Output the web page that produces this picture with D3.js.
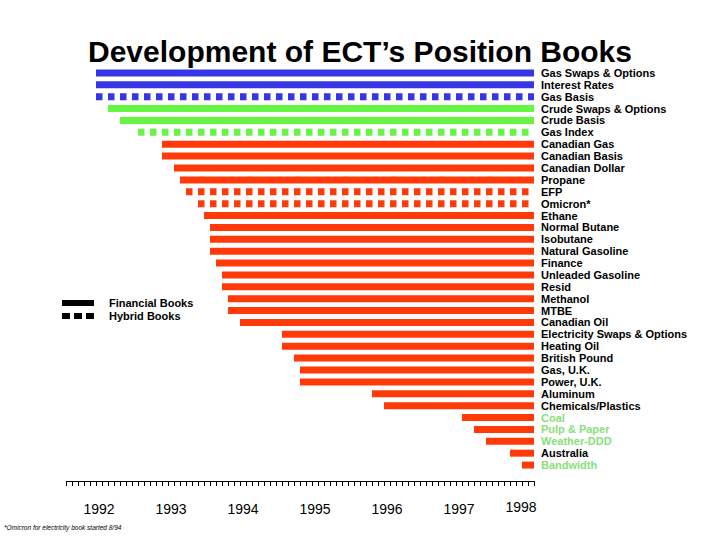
<!DOCTYPE html>
<html><head><meta charset="utf-8">
<script src="https://cdn.jsdelivr.net/npm/d3@7"></script>
<style>body{margin:0;background:#fff}svg{display:block}text{font-family:Arial,"Liberation Sans",sans-serif}</style>
</head><body><svg id="c" width="720" height="540"></svg>
<script>
const books = ["Gas Swaps & Options","Interest Rates","Gas Basis","Crude Swaps & Options","Crude Basis","Gas Index","Canadian Gas","Canadian Basis","Canadian Dollar","Propane","EFP","Omicron*","Ethane","Normal Butane","Isobutane","Natural Gasoline","Finance","Unleaded Gasoline","Resid","Methanol","MTBE","Canadian Oil","Electricity Swaps & Options","Heating Oil","British Pound","Gas, U.K.","Power, U.K.","Aluminum","Chemicals/Plastics","Coal","Pulp & Paper","Weather-DDD","Australia","Bandwidth"];
const startDates = ["1992-07","1992-07","1992-07","1992-09","1992-11","1993-02","1993-06","1993-06","1993-08","1993-09","1993-10","1993-12","1994-01","1994-02","1994-02","1994-02","1994-03","1994-04","1994-04","1994-05","1994-05","1994-07","1995-02","1995-02","1995-04","1995-05","1995-05","1996-05","1996-07","1997-08","1997-10","1997-12","1998-04","1998-06"];
const endDate = "1998-08";
const bookType = ["financial","financial","hybrid","financial","financial","hybrid","financial","financial","financial","financial","hybrid","hybrid","financial","financial","financial","financial","financial","financial","financial","financial","financial","financial","financial","financial","financial","financial","financial","financial","financial","financial","financial","financial","financial","financial"];
const commodityGroup = ["gas","gas","gas","crude","crude","crude","other","other","other","other","other","other","other","other","other","other","other","other","other","other","other","other","other","other","other","other","other","other","other","other","other","other","other","other"];
const plannedBooks = ["Coal","Pulp & Paper","Weather-DDD","Bandwidth"];
const yearLabels = ["1992","1993","1994","1995","1996","1997","1998"];
const legendItems = ["Financial Books","Hybrid Books"];

const groupColor = {gas:"#3636e6", crude:"#66f542", other:"#ff3a08"};
const toMonth = s => { const [y,m] = s.split("-").map(Number); return (y-1992)*12 + (m-1); };

const svg = d3.select("#c");
const x = d3.scaleLinear().domain([0, 79]).range([60, 534]);
const y = d3.scaleBand().domain(books).range([67, 471]).paddingInner(0);

svg.append("text").attr("x",360).attr("y",62).attr("text-anchor","middle")
  .attr("font-size",30).attr("font-weight","bold").text("Development of ECT\u2019s Position Books");

const rows = svg.append("g").selectAll("g").data(books).join("g");
rows.append("line")
  .attr("x1",(d,i)=>x(toMonth(startDates[i])))
  .attr("x2",x(toMonth(endDate)))
  .attr("y1",d=>y(d)+y.bandwidth()/2).attr("y2",d=>y(d)+y.bandwidth()/2)
  .attr("stroke",(d,i)=>groupColor[commodityGroup[i]])
  .attr("stroke-width",7)
  .attr("stroke-dasharray",(d,i)=>bookType[i]==="hybrid"?"6.5,5.5":null);
rows.append("text").attr("x",541).attr("y",d=>y(d)+y.bandwidth()/2+4)
  .attr("font-size",11).attr("font-weight","bold")
  .attr("fill",d=>plannedBooks.includes(d)?"#88e07a":"#000").text(d=>d);

// axis
const axis = d3.axisBottom(x).tickValues(d3.range(1,80)).tickSize(5).tickSizeOuter(0).tickFormat("");
const ag = svg.append("g").attr("transform","translate(0,481)").call(axis);
ag.select(".domain").attr("d","M66,0.5H535").attr("stroke","#000");
ag.selectAll(".tick line").attr("stroke","#000");
svg.append("g").selectAll("text").data(yearLabels).join("text")
  .attr("x",d=>d==="1998"?x(toMonth(d+"-01"))+29:x(toMonth(d+"-07"))+3)
  .attr("y",d=>d==="1998"?512:514)
  .attr("text-anchor","middle").attr("font-size",14).text(d=>d);

// legend
const lg = svg.append("g").selectAll("g").data(legendItems).join("g")
  .attr("transform",(d,i)=>`translate(0,${303+i*13})`);
lg.append("line").attr("x1",62).attr("x2",94).attr("y1",0).attr("y2",0)
  .attr("stroke","#000").attr("stroke-width",6)
  .attr("stroke-dasharray",(d,i)=>i===1?"8,4":null);
lg.append("text").attr("x",109).attr("y",4).attr("font-size",11).attr("font-weight","bold").text(d=>d);

svg.append("text").attr("x",4).attr("y",530).attr("font-size",6.5).attr("font-style","italic")
  .text("*Omicron for electricity book started 8/94");
</script></body></html>
